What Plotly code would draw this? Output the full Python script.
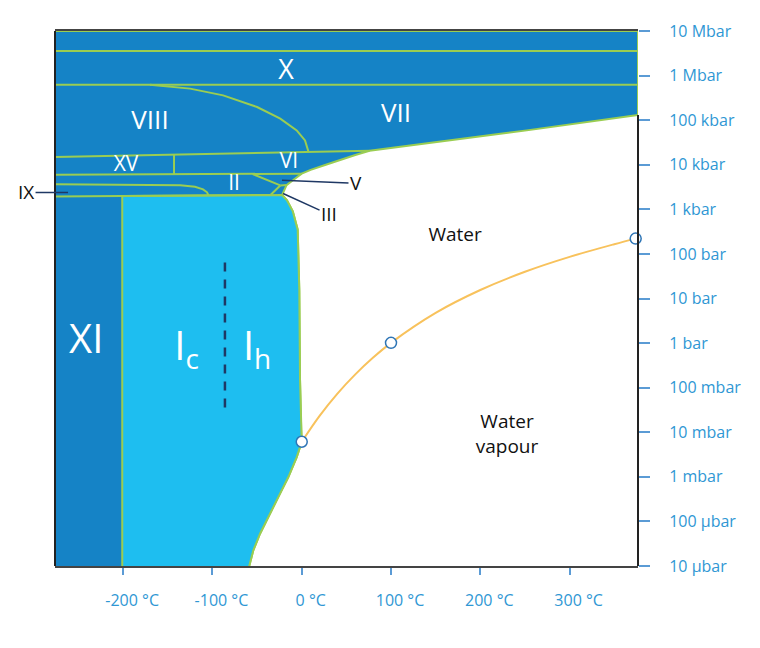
import numpy as np
import plotly.graph_objects as go

# ---------------- axis extents ----------------
T_MIN, T_MAX = -276.3, 376.6          # degC
P_MIN, P_MAX = 1e-5, 1e7              # bar

x_tickvals = [-200, -100, 0, 100, 200, 300]
x_ticktext = ["-200 °C", "-100 °C", "0 °C", "100 °C", "200 °C", "300 °C"]
y_tickvals = [1e-5, 1e-4, 1e-3, 1e-2, 1e-1, 1, 10, 100, 1e3, 1e4, 1e5, 1e6, 1e7]
y_ticktext = ["10 µbar", "100 µbar", "1 mbar", "10 mbar", "100 mbar", "1 bar", "10 bar",
              "100 bar", "1 kbar", "10 kbar", "100 kbar", "1 Mbar", "10 Mbar"]

# ---------------- boundary of the ice phases against water / vapour ----------------
# (from the right edge down to the triple point)
melt_T = [376.6, 252, 166, 76, 60, 45, 27, 10, 0, -8, -17, -22,
          -16.5, -10, -4.5, -2.7, -1.9, -0.6, 0.01]
melt_P = [1.3e5, 5.9e4, 3.5e4, 2.05e4, 1.65e4, 1.33e4, 1.0e4, 7.7e3, 6.3e3, 4.8e3, 3.5e3, 2.1e3,
          1.6e3, 900, 350, 15, 0.15, 0.012, 6.12e-3]
# sublimation curve of ice Ih (continues just below the axis)
subl_T = [-5.6, -15.0, -24.3, -35.5, -46.7, -54.2, -58.7, -60]
subl_P = [2.78e-3, 9.9e-4, 4.2e-4, 1.49e-4, 5.3e-5, 2.25e-5, 1.03e-5, 8e-6]

# ---------------- liquid / vapour curve ----------------
vap_T = [0.01, 20, 40, 60, 80, 100, 150, 200, 250, 300, 350, 374]
vap_P = [6.12e-3, 0.0234, 0.0738, 0.199, 0.474, 1.013, 4.76, 15.5, 39.8, 85.9, 165.2, 220.6]
pts_T = [0.01, 100, 374]
pts_P = [6.12e-3, 1.013, 220.6]

# ---------------- solid/solid phase boundaries ----------------
top_T, top_P = [T_MIN, T_MAX], [3.56e6, 3.56e6]
x_vii_T, x_vii_P = [T_MIN, T_MAX], [6.2e5, 6.2e5]
viii_vii_T = [-170, -125, -88, -50, -24, -5.6, 3.7, 7.4]
viii_vii_P = [6.2e5, 5.1e5, 3.6e5, 1.97e5, 1.08e5, 5.9e4, 3.5e4, 2.0e4]
vi_top_T, vi_top_P = [T_MIN, 76], [1.5e4, 2.05e4]
xv_vi_T, xv_vi_P = [-143, -143], [1.68e4, 6.05e3]
ii_top_T, ii_top_P = [T_MIN, 0], [6.0e3, 6.3e3]
ii_v_T, ii_v_P = [-55, -24], [6.2e3, 3.44e3]
v_iii_T, v_iii_P = [-24, -17], [3.44e3, 3.5e3]
ii_iii_T, ii_iii_P = [-24, -35], [3.44e3, 2.1e3]
ih_ii_T, ih_ii_P = [T_MIN, -201, -35], [1.95e3, 1.98e3, 2.1e3]
ix_T = [T_MIN, -136, -119.5, -110.5, -106, -104.4]
ix_P = [3.64e3, 3.46e3, 3.2e3, 2.81e3, 2.41e3, 2.05e3]
xi_ic_T = -201

# Ic / Ih dashed divider
dash_T, dash_P = [-86, -86], [64.6, 0.0267]

# ---------------- labels ----------------
lab_text = ["X", "VIII", "VII", "XV", "VI", "II", "XI", "I<sub>c</sub>", "I<sub>h</sub>",
            "Water", "Water<br>vapour"]
lab_T = [-17.6, -169.9, 105.6, -196.8, -14.2, -75.8, -241.3, -129, -50, 171.8, 229.9]
lab_P = [1.2e6, 9.0e4, 1.29e5, 9.46e3, 1.11e4, 3.55e3, 0.98, 0.69, 0.69, 245, 8.47e-3]
lab_size = [27, 26, 26, 21, 21, 21, 40, 40, 40, 19, 19]
lab_color = ["white"] * 9 + ["#111111", "#111111"]

call_text = ["IX", "V", "III"]
call_T = [-261.7, -22.1, -20.9]
call_P = [2.39e3, 4.48e3, 2.27e3]
call_ax = [-42, 74, 46]
call_ay = [0, 3, 21]

# ---------------- colours ----------------
DARK = "#1583C6"
LIGHT = "#1EBEF0"
GREEN = "#9ACD52"
ORANGE = "#F8C25C"
NAVY = "#1F3864"
TICK = "#2F97D4"

fig = go.Figure()

# all ice phases (dark)
dark_T = [T_MIN, T_MIN, T_MAX] + melt_T + subl_T + [T_MIN]
dark_P = [subl_P[-1], P_MAX, P_MAX] + melt_P + subl_P + [subl_P[-1]]
fig.add_trace(go.Scatter(x=dark_T, y=dark_P, mode="lines", fill="toself",
                         fillcolor=DARK, line=dict(color=GREEN, width=2), hoverinfo="skip"))

# ice Ih / Ic (light)
ih_start = melt_T.index(-22)
light_T = [xi_ic_T, -35] + melt_T[ih_start:] + subl_T + [xi_ic_T, xi_ic_T]
light_P = [ih_ii_P[1], 2.1e3] + melt_P[ih_start:] + subl_P + [subl_P[-1], ih_ii_P[1]]
fig.add_trace(go.Scatter(x=light_T, y=light_P, mode="lines", fill="toself",
                         fillcolor=LIGHT, line=dict(color=GREEN, width=2), hoverinfo="skip"))

# solid-solid boundaries
segs = [(top_T, top_P), (x_vii_T, x_vii_P), (viii_vii_T, viii_vii_P), (vi_top_T, vi_top_P),
        (xv_vi_T, xv_vi_P), (ii_top_T, ii_top_P), (ii_v_T, ii_v_P), (v_iii_T, v_iii_P),
        (ii_iii_T, ii_iii_P), (ih_ii_T, ih_ii_P), (ix_T, ix_P)]
bx, by = [], []
for t, p in segs:
    bx += list(t) + [None]
    by += list(p) + [None]
fig.add_trace(go.Scatter(x=bx, y=by, mode="lines", line=dict(color=GREEN, width=2),
                         hoverinfo="skip"))

# liquid / vapour
fig.add_trace(go.Scatter(x=vap_T, y=vap_P, mode="lines", line=dict(color=ORANGE, width=2),
                         line_shape="spline", hoverinfo="skip"))
fig.add_trace(go.Scatter(x=pts_T, y=pts_P, mode="markers",
                         marker=dict(size=11, color="white", line=dict(color="#2E75B6", width=1.5)),
                         cliponaxis=False, hoverinfo="skip"))

# Ic / Ih divider
fig.add_trace(go.Scatter(x=dash_T, y=dash_P, mode="lines",
                         line=dict(color=NAVY, width=2.5, dash="9px,8px"), hoverinfo="skip"))

# labels
fig.add_trace(go.Scatter(x=lab_T, y=lab_P, mode="text", text=lab_text,
                         textfont=dict(size=lab_size, color=lab_color, family="Open Sans"),
                         hoverinfo="skip"))

for txt, t, p, ax, ay in zip(call_text, call_T, call_P, call_ax, call_ay):
    fig.add_annotation(x=t, y=np.log10(p), xref="x", yref="y", text=txt,
                       showarrow=True, arrowhead=0, arrowwidth=1.5, arrowcolor=NAVY,
                       ax=ax, ay=ay, font=dict(size=19, color="#111111", family="Open Sans"),
                       standoff=0, startstandoff=0)

# frame lines
fig.add_shape(type="line", xref="paper", yref="paper", x0=0, x1=0, y0=0, y1=1,
              line=dict(color="#222222", width=2), layer="above")
fig.add_shape(type="line", xref="paper", yref="y", x0=1, x1=1,
              y0=P_MIN, y1=melt_P[0],
              line=dict(color="#222222", width=2), layer="above")

fig.update_layout(
    width=752, height=640,
    margin=dict(l=47, r=122, t=23, b=82),
    plot_bgcolor="white", paper_bgcolor="white",
    showlegend=False,
    font=dict(family="Open Sans"),
    xaxis=dict(range=[T_MIN, T_MAX], tickvals=x_tickvals, ticktext=x_ticktext,
               ticks="outside", ticklen=7, tickwidth=1.5, tickcolor="#5B9BD5",
               tickfont=dict(size=16, color=TICK, family="Open Sans"),
               showgrid=False, zeroline=False, showline=True, linecolor="#444444",
               linewidth=1.5, mirror=True, ticklabelshift=9, ticklabelstandoff=12),
    yaxis=dict(type="log", range=[-5, 7], side="right", tickvals=y_tickvals,
               ticktext=y_ticktext, ticks="outside", ticklen=11, tickwidth=1.5,
               tickcolor="#5B9BD5", tickfont=dict(size=16, color=TICK, family="Open Sans"),
               showgrid=False, zeroline=False, showline=False, ticklabelstandoff=16),
)

fig.write_html("out.html")
